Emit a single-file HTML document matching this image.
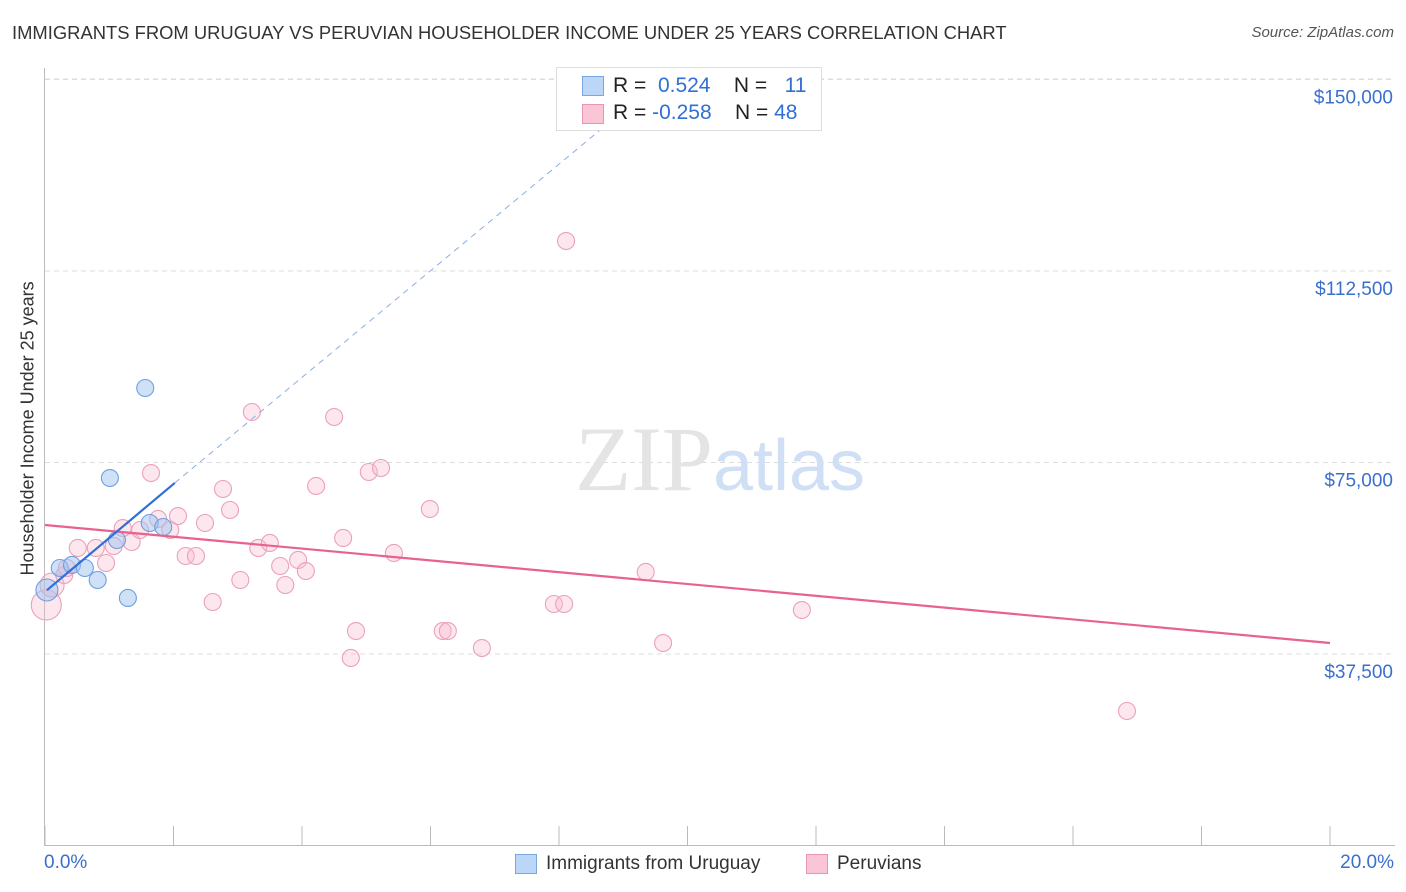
<!DOCTYPE html>
<html><head><meta charset="utf-8"><style>
body{margin:0;background:#fff;font-family:"Liberation Sans",sans-serif}
#c{position:relative;width:1406px;height:892px;overflow:hidden}
.t{position:absolute;white-space:nowrap}
</style></head><body>
<div id="c">
<div class="t" style="left:12px;top:22px;font-size:18.4px;color:#333">IMMIGRANTS FROM URUGUAY VS PERUVIAN HOUSEHOLDER INCOME UNDER 25 YEARS CORRELATION CHART</div>
<div class="t" style="right:12px;top:24px;font-size:15px;color:#555;font-style:italic">Source: ZipAtlas.com</div>
<div class="t" style="left:-92px;top:445px;font-size:18px;color:#333;transform:rotate(-90deg);width:240px;text-align:center">Householder Income Under 25 years</div>
<svg id="s" width="1406" height="892" style="position:absolute;left:0;top:0"></svg>
<div class="t" style="left:556px;top:67px;width:264px;height:62px;border:1px solid #ddd;background:#fff"></div>
<div class="t" style="left:582px;top:76px;width:20px;height:18px;background:#bcd6f7;border:1px solid #7aa7e0"></div>
<div class="t" style="left:582px;top:104px;width:20px;height:18px;background:#fac6d6;border:1px solid #e895b0"></div>
<div class="t" style="left:613px;top:74px;font-size:21px;color:#222">R = &nbsp;<span style="color:#2f6fd6">0.524</span>&nbsp;&nbsp;&nbsp; N = &nbsp;&nbsp;<span style="color:#2f6fd6">11</span></div>
<div class="t" style="left:613px;top:101px;font-size:21px;color:#222">R = <span style="color:#2f6fd6">-0.258</span>&nbsp;&nbsp;&nbsp; N = <span style="color:#2f6fd6">48</span></div>
<div class="t" style="left:515px;top:854px;width:20px;height:18px;background:#bcd6f7;border:1px solid #7aa7e0"></div>
<div class="t" style="left:546px;top:853px;font-size:19px;color:#333">Immigrants from Uruguay</div>
<div class="t" style="left:806px;top:854px;width:20px;height:18px;background:#fac6d6;border:1px solid #e895b0"></div>
<div class="t" style="left:837px;top:853px;font-size:19px;color:#333">Peruvians</div>
<div class="t" style="left:44px;top:852px;font-size:19px;color:#3a6fcc">0.0%</div>
<div class="t" style="right:12px;top:852px;font-size:19px;color:#3a6fcc">20.0%</div>
</div>
<script>
const yTicks=[37500,75000,112500,150000];
const yTickLabels=["$37,500","$75,000","$112,500","$150,000"];
const xTicks=[0,2,4,6,8,10,12,14,16,18,20];
const blueX=[0.03,0.23,0.42,0.62,0.82,1.01,1.12,1.29,1.56,1.63,1.84];
const blueY=[50030,54340,54930,54340,51990,71960,59820,48470,89590,63150,62370];
const pinkX=[0.02,0.11,0.30,0.34,0.51,0.79,0.95,1.07,1.21,1.35,1.48,1.65,1.76,1.95,2.07,2.19,2.35,2.49,2.61,2.77,2.88,3.04,3.22,3.32,3.50,3.66,3.74,3.94,4.06,4.22,4.50,4.64,4.76,4.84,5.04,5.23,5.43,5.99,6.19,6.27,6.80,7.92,8.08,8.11,9.35,9.62,11.78,16.84];
const pinkY=[47100,51010,52970,54340,58260,58260,55320,58650,62170,59430,61780,72940,63940,61780,64520,56690,56690,63150,47680,69810,65700,51990,84890,58260,59240,54730,51010,55910,53750,70400,83910,60220,36720,42000,73140,73920,57280,65890,42000,42000,38670,47290,47290,118370,53560,39650,46110,26340];
const blueTrendX=[0.03,2.02,8.64];
const blueTrendY=[50000,71000,140100];
const pinkTrendX=[0,20];
const pinkTrendY=[62760,39650];
const X=v=>45+v*64.25, Y=v=>845.5-v/195.82;
const s=document.getElementById('s'),NS='http://www.w3.org/2000/svg';
function mk(t,a){const e=document.createElementNS(NS,t);for(const k in a)e.setAttribute(k,a[k]);s.appendChild(e);return e;}
yTicks.forEach((v,i)=>{
 const g=mk('line',{x1:45,x2:1395,y1:Y(v),y2:Y(v),stroke:'#ddd','stroke-dasharray':'5,4'});
 
 
 const t=mk('text',{x:1393,y:Y(v)+24,'text-anchor':'end','font-size':19,fill:'#3a6fcc','font-family':'Liberation Sans'});
 t.textContent=yTickLabels[i];
 
 
});
const topG=mk('line',{x1:45,x2:1395,y1:79,y2:79,stroke:'#ddd','stroke-dasharray':'5,4'});


const ya=mk('line',{x1:44.5,x2:44.5,y1:68,y2:846,stroke:'#bbb'});


const xa=mk('line',{x1:44,x2:1395,y1:845.5,y2:845.5,stroke:'#bbb'});


xTicks.forEach(v=>{const t=mk('line',{x1:X(v),x2:X(v),y1:826,y2:846,stroke:'#bbb'});
 
 });
const wm=mk('text',{x:720,y:490,'text-anchor':'middle','font-size':92,'font-family':'Liberation Serif',fill:'#e4e4e4'});
wm.innerHTML='ZIP<tspan fill="#cfdff5" font-family="Liberation Sans" font-size="72">atlas</tspan>';


pinkX.forEach((x,i)=>{const c=mk('circle',{cx:X(x),cy:Y(pinkY[i]),r:i==0?15:(i==1?12:8.5),fill:'rgba(248,185,205,0.35)',stroke:'#eba0b8','stroke-width':1.1});
 
 });
blueX.forEach((x,i)=>{const c=mk('circle',{cx:X(x),cy:Y(blueY[i]),r:i==0?11:8.5,fill:'rgba(160,196,240,0.5)',stroke:'#6f9fe0','stroke-width':1.1});
 
 });
const pl=mk('line',{x1:X(pinkTrendX[0]),y1:Y(pinkTrendY[0]),x2:X(pinkTrendX[1]),y2:Y(pinkTrendY[1]),stroke:'#e8628e','stroke-width':2.2});


const bl=mk('line',{x1:X(blueTrendX[0]),y1:Y(blueTrendY[0]),x2:X(blueTrendX[1]),y2:Y(blueTrendY[1]),stroke:'#2f6fd6','stroke-width':2.2});


const bd=mk('line',{x1:X(blueTrendX[1]),y1:Y(blueTrendY[1]),x2:X(blueTrendX[2]),y2:Y(blueTrendY[2]),stroke:'#8aaee6','stroke-width':1,'stroke-dasharray':'6,5'});


</script>
</body></html>
